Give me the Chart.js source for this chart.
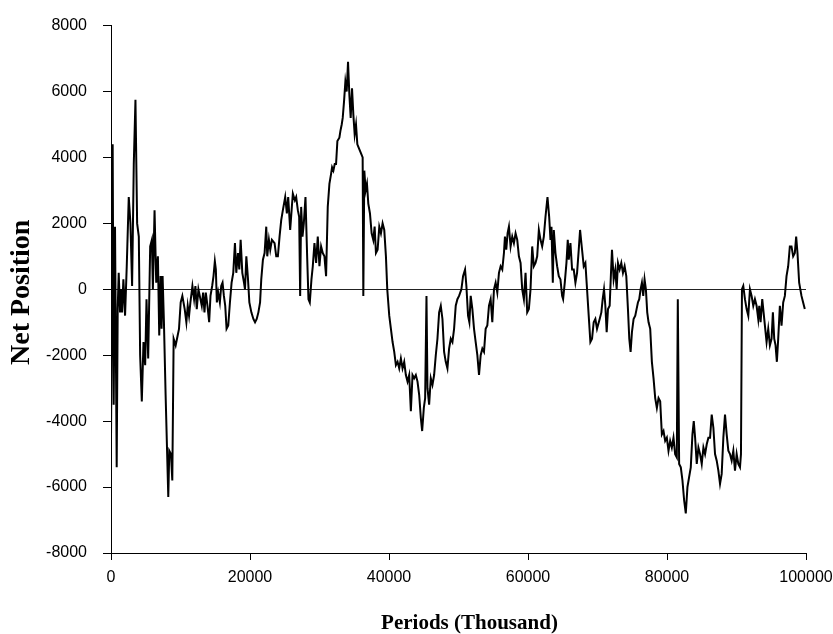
<!DOCTYPE html>
<html>
<head>
<meta charset="utf-8">
<script src="https://cdn.jsdelivr.net/npm/chart.js@4"></script>
<style>
  html, body { margin: 0; padding: 0; background: #fff; }
  #wrap { width: 833px; height: 634px; }
</style>
</head>
<body>
<div id="wrap"><canvas id="netChart"></canvas></div>
<script>
// periods (x) and net position (y)
const periods = [
    0, 241, 386, 578, 819, 964, 1109, 1301, 1446, 1591,
    1783, 2024, 2265, 2555, 2796, 3037, 3278, 3519, 3760, 4001,
    4193, 4434, 4675, 4916, 5109, 5350, 5639, 5880, 6025, 6266,
    6507, 6748, 6941, 7134, 7278, 7423, 7616, 7857, 8242, 8387,
    8628, 8821, 9013, 9303, 9592, 9785, 10026, 10267, 10604, 10845,
    11038, 11231, 11423, 11713, 11954, 12146, 12339, 12580, 12773, 13062,
    13255, 13448, 13641, 13882, 14123, 14315, 14556, 14749, 14942, 15087,
    15231, 15424, 15665, 15858, 16051, 16243, 16436, 16629, 16870, 17111,
    17352, 17593, 17834, 18027, 18268, 18461, 18653, 18894, 19135, 19280,
    19473, 19714, 19907, 20196, 20485, 20726, 20967, 21208, 21449,
    21621, 21860, 22100, 22339, 22482, 22721, 22913, 23152, 23534, 23774,
    24013, 24252, 24491, 24730, 25065, 25304, 25495, 25782, 26021, 26165,
    26452, 26643, 26883, 27074, 27217, 27361, 27552, 27743, 27983, 28222,
    28413, 28604, 28843, 29035, 29274, 29513, 29752, 29991, 30231, 30470,
    30709, 30948, 31187, 31426, 31666, 31809, 31999, 32192, 32383, 32574,
    32861, 33005, 33196, 33340, 33531, 33722, 33913, 34105, 34296, 34487,
    34679, 34870, 35061, 35253, 35444, 35635, 35827, 36018, 36209, 36305,
    36448, 36640, 36831, 37022, 37261, 37501, 37740, 37931, 38123, 38362,
    38601, 38840, 39079, 39319, 39558, 39749, 40036, 40275, 40514, 40754,
    40993, 41232, 41471, 41710, 41949, 42189, 42428, 42667, 42906, 43145,
    43384, 43623, 43863, 44102, 44341, 44580, 44771, 45010, 45201, 45393,
    45536, 45775, 46014, 46254, 46493, 46732, 46971,
    47212, 47451, 47690, 47929, 48168, 48408, 48647, 48886, 49125, 49364,
    49603, 49842, 50082, 50417, 50656, 50943, 51134, 51373, 51564, 51756,
    51995, 52234, 52473, 52712, 52951, 53191, 53430, 53669, 53908, 54147,
    54386, 54625, 54865, 55104, 55343, 55582, 55821, 56060, 56299, 56539,
    56682, 56873, 57065, 57256, 57495, 57734, 57973, 58213, 58452, 58691,
    58930, 59169, 59408, 59648, 59887, 60126, 60365, 60604, 60843, 61083,
    61322, 61561, 61800, 62039, 62278, 62517, 62804, 63044, 63235, 63378,
    63570, 63713, 63952, 64191, 64431, 64670, 64909, 65052, 65291, 65531,
    65722, 65866, 66105, 66344, 66583, 66822, 67061, 67300, 67492, 67779,
    68018, 68257, 68496, 68735, 68974, 69214, 69453, 69692, 69931,
    70315, 70554, 70746, 70937, 71128, 71320, 71511, 71750, 71941, 72085,
    72324, 72563, 72755, 72946, 73185, 73424, 73663, 73903, 74142, 74381,
    74572, 74763, 74955, 75194, 75433, 75624, 75816, 76007, 76198, 76390,
    76581, 76772, 76964, 77155, 77346, 77585, 77825, 78064, 78303, 78542,
    78781, 79020, 79260, 79499, 79738, 79977, 80216, 80455, 80694, 80934,
    81173, 81412, 81555, 81747, 81986, 82225, 82464, 82703, 82942, 83182,
    83421, 83660, 83851, 84043, 84282, 84521, 84760, 84999, 85238, 85477,
    85717, 85956, 86195, 86434, 86673, 86912, 87152, 87391, 87630, 87869,
    88108, 88347, 88587, 88826, 89065, 89304, 89543, 89782, 90022, 90261,
    90500, 90643, 90787, 90976, 91217, 91456, 91695, 91934, 92174, 92413,
    92652, 92891, 93130,
    93275, 93466, 93705, 93897, 94088, 94327, 94566, 94805, 95045, 95236,
    95427, 95619, 95810, 96001, 96240, 96480, 96719, 96958, 97197, 97436,
    97675, 97914, 98154, 98393, 98584, 98775, 99015, 99350, 99589, 99828
];

const netPosition = [
    -4600, 4400, -3500, 1900, -5400, -600, 500, -700, 0, -700,
    300, -800, 700, 2800, 2000, 100, 3800, 5750, 2000, 1600,
    -2000, -3400, -1600, -2300, -300, -2100, 1300, 1500, 0, 2400,
    200, 1000, -1400, 400, -1200, 400, -1000, -3200, -6300, -4900,
    -5000, -5800, -1500, -1700, -1400, -1200, -400, -200, -600, -1000,
    -500, -800, -400, 100, -300, 100, -600, 0, -200, -500,
    -100, -700, -100, -500, -1000, -200, 100, 400, 850, 600,
    -400, -100, -400, 100, 200, -200, -500, -1200, -1100, -400,
    200, 500, 1400, 500, 1100, 600, 1500, 500, 200, 0,
    1000, 300, -400, -700, -900, -1000, -900, -700, -400,
    300, 900, 1100, 1900, 1000, 1500, 1200, 1500, 1400, 1000,
    1000, 1600, 2100, 2400, 2800, 2300, 2800, 1800, 2500, 2900,
    2700, 2800, 2400, 2200, -200, 2500, 1600, 2000, 2800, 1000,
    -300, -400, 300, 700, 1400, 800, 1600, 700, 1300, 1100,
    1000, 400, 2500, 3200, 3500, 3700, 3600, 3800, 3800, 4500,
    4600, 4800, 5000, 5200, 5700, 6300, 6000, 6900, 5900, 5200,
    6100, 5300, 4700, 5000, 4400, 4300, 4200, 4100, 4000, -200,
    3600, 3000, 3200, 2600, 2300, 1700, 1500, 1900, 1100, 1200,
    1900, 1700, 2000, 1800, 1000, 0, -800, -1200, -1600, -1900,
    -2300, -2200, -2400, -2100, -2400, -2200, -2600, -2800, -2600, -3700,
    -2600, -2700, -2600, -2800, -3200, -3900, -4300, -3600, -3300, -200,
    -3000, -3500, -2700, -2900, -2600, -2000, -1500,
    -700, -500, -900, -1900, -2200, -2400, -1800, -1500, -1600, -1200,
    -500, -300, -200, 0, 400, 600, 100, -800, -1000, -200,
    -600, -1200, -1600, -2000, -2600, -2000, -1800, -1900, -1200, -1100,
    -500, -300, -1000, 0, 200, -100, 500, 700, 600, 1100,
    1600, 1200, 1700, 1900, 1300, 1600, 1400, 1700, 1500, 1000,
    800, 0, -300, 500, -700, -600, 0, 1300, 700, 800,
    1000, 1800, 1500, 1300, 1600, 2200, 2800, 2200, 1500, 1900,
    200, 1800, 1100, 700, 400, 300, -200, -300, 200, 800,
    1500, 900, 1400, 600, 600, 200, 500, 1200, 1800, 1200,
    700, 800, 0, -800, -1600, -1500, -1000, -900, -1200,
    -900, -700, -300, 0, -500, -1300, -600, -500, 500, 1200,
    300, 600, 0, 800, 600, 800, 500, 700, 400, -600,
    -1500, -1900, -1300, -900, -800, -600, -400, -300, 0, 200,
    -200, 300, 0, -700, -1000, -1200, -2200, -2700, -3300, -3600,
    -3300, -3400, -4400, -4300, -4600, -4500, -4900, -4600, -4800, -4500,
    -5000, -5100, -300, -5300, -5400, -5800, -6400, -6800, -6000, -5700,
    -5400, -4400, -4000, -4500, -5300, -4800, -5000, -5300, -4800, -5000,
    -4700, -4500, -4500, -3800, -4200, -5000, -5200, -5500, -5900, -5600,
    -4500, -3800, -4400, -4900, -5000, -5200, -4900, -5500, -5000, -5300,
    -5400, -5000, 0, 100, -300, -600, -800, 0, -200, -500,
    -300, -500, -900,
    -500, -1000, -300, -700, -1100, -1600, -1200, -1700, -1500, -700,
    -1500, -1700, -2200, -1500, -500, -1100, -400, -200, 400, 700,
    1300, 1300, 1000, 1100, 1600, 1100, 200, -200, -400, -600
];

// tick labels
const xTicks = [0, 20000, 40000, 60000, 80000, 100000];
const yTicks = [-8000, -6000, -4000, -2000, 0, 2000, 4000, 6000, 8000];

const xTitle = 'Periods (Thousand)';
const yTitle = 'Net Position';

const points = periods.map((p, i) => ({ x: p, y: netPosition[i] }));

const tickFont = { family: 'Liberation Sans', size: 16 };

// axis titles drawn by hand so they sit where the original has them
const axisTitles = {
    id: 'axisTitles',
    afterDraw(chart) {
        const c = chart.ctx;
        const area = chart.chartArea;
        c.save();
        c.fillStyle = '#000';
        c.textAlign = 'center';
        c.textBaseline = 'middle';
        c.font = 'bold 21px "Liberation Serif"';
        c.fillText(xTitle, (area.left + area.right) / 2 + 11, 624);
        c.translate(22, (area.top + area.bottom) / 2 + 3);
        c.rotate(-Math.PI / 2);
        c.font = 'bold 28px "Liberation Serif"';
        c.fillText(yTitle, 0, 0);
        c.restore();
    }
};

new Chart(document.getElementById('netChart').getContext('2d'), {
    type: 'line',
    data: {
        datasets: [{
            label: 'Net Position',
            data: points,
            borderColor: '#000',
            borderWidth: 2,
            pointRadius: 0,
            tension: 0,
            fill: false
        }]
    },
    options: {
        responsive: true,
        maintainAspectRatio: false,
        animation: false,
        layout: {
            padding: { top: 19, right: 27, bottom: 0, left: 0 }
        },
        plugins: {
            legend: { display: false },
            tooltip: { enabled: false }
        },
        scales: {
            x: {
                type: 'linear',
                min: 0,
                max: 100000,
                afterBuildTicks: scale => { scale.ticks = xTicks.map(v => ({ value: v })); },
                afterFit: scale => {
                    scale.height = 81;
                    scale.paddingRight = 0;
                    scale.paddingLeft = 0;
                },
                grid: {
                    drawOnChartArea: false,
                    tickColor: '#000',
                    tickLength: 7
                },
                border: { display: true, color: '#000', width: 1 },
                ticks: {
                    color: '#000',
                    font: tickFont,
                    padding: 8,
                    maxRotation: 0,
                    callback: v => String(v)
                }
            },
            y: {
                type: 'linear',
                min: -8000,
                max: 8000,
                afterBuildTicks: scale => { scale.ticks = yTicks.map(v => ({ value: v })); },
                afterFit: scale => { scale.width = 111; },
                grid: {
                    color: ctx => (ctx.tick && ctx.tick.value === 0) ? '#222' : 'rgba(0,0,0,0)',
                    lineWidth: 1,
                    tickColor: '#000',
                    tickLength: 8
                },
                border: { display: true, color: '#000', width: 1 },
                ticks: {
                    color: '#000',
                    font: tickFont,
                    padding: 16,
                    callback: v => String(v)
                }
            }
        }
    },
    plugins: [axisTitles]
});
</script>
</body>
</html>
